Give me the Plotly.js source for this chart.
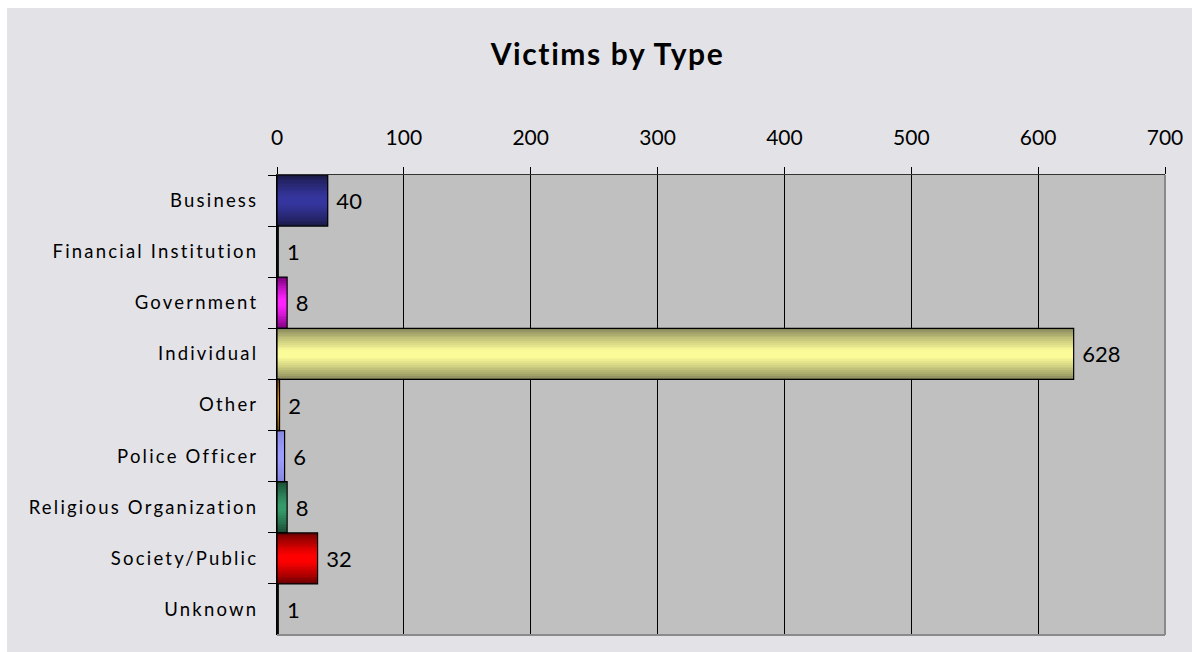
<!DOCTYPE html>
<html>
<head>
<meta charset="utf-8">
<script src="https://cdn.plot.ly/plotly-3.0.1.min.js"></script>
<style>
  html, body { margin: 0; padding: 0; background: #ffffff; }
  #chart { position: absolute; left: 7px; top: 8px; width: 1185px; height: 644px; }
  .ytick text { letter-spacing: 2.2px; }
  .gtitle { letter-spacing: 1.6px; }
</style>
</head>
<body>
<div id="chart"></div>
<script>
const categories = ['Business', 'Financial Institution', 'Government', 'Individual', 'Other',
                    'Police Officer', 'Religious Organization', 'Society/Public', 'Unknown'];
const values = [40, 1, 8, 628, 2, 6, 8, 32, 1];
const centerColors = ['#3535a0', '#33ccff', '#ff22ff', '#fbfb99', '#ff9900', '#9c9cff', '#35996a', '#ff0000', '#909090'];
const edgeColors   = ['#1a1a48', '#1a6680', '#7a007a', '#85855a', '#804c00', '#8585e0', '#1a4a33', '#6a0000', '#404040'];
const xTicks = [0, 100, 200, 300, 400, 500, 600, 700];

function hexToRgb(h) {
  return [parseInt(h.slice(1,3),16), parseInt(h.slice(3,5),16), parseInt(h.slice(5,7),16)];
}
function mix(a, b, t) {
  const A = hexToRgb(a), B = hexToRgb(b);
  return 'rgb(' + A.map((v, i) => Math.round(v + (B[i] - v) * t)).join(',') + ')';
}

const N = 14;
const traces = [];
for (let k = 0; k < N; k++) {
  const w = 1 - k / N;
  const t = Math.min(1, Math.pow(1 - w, 0.8) * 1.15);
  traces.push({
    type: 'bar',
    orientation: 'h',
    y: categories,
    x: values,
    width: categories.map(() => w),
    marker: { color: categories.map((c, i) => mix(edgeColors[i], centerColors[i], t)), line: { width: 0 } },
    hoverinfo: 'skip',
    showlegend: false
  });
}
// outline + labels
traces.push({
  type: 'bar',
  orientation: 'h',
  y: categories,
  x: values,
  width: categories.map(() => 1),
  marker: { color: 'rgba(0,0,0,0)', line: { color: '#000000', width: 1.2 } },
  text: values.map(v => '\u00a0' + v),
  textposition: 'outside',
  constraintext: 'none',
  cliponaxis: false,
  textfont: { family: 'Lato, sans-serif', size: 22, color: '#000000' },
  showlegend: false
});

const layout = {
  width: 1185,
  height: 644,
  paper_bgcolor: '#e3e3e7',
  plot_bgcolor: '#c0c0c0',
  barmode: 'overlay',
  bargap: 0,
  margin: { l: 270, r: 27, t: 167, b: 17 },
  title: {
    text: '<b>Victims by Type</b>',
    font: { family: 'Lato, sans-serif', size: 30, color: '#000000' },
    x: (607.5 - 7) / 1185, xref: 'container', xanchor: 'center',
    y: 1 - (54 - 8) / 644, yref: 'container', yanchor: 'middle'
  },
  xaxis: {
    side: 'top',
    range: [0, 700],
    tickvals: xTicks,
    ticktext: xTicks.map(String),
    showgrid: true,
    gridcolor: '#000000',
    gridwidth: 1,
    zeroline: false,
    showline: true,
    linecolor: '#333333',
    linewidth: 1,
    ticks: 'outside',
    ticklen: 7,
    tickcolor: '#000000',
    ticklabelstandoff: 14,
    tickfont: { family: 'Lato, sans-serif', size: 21, color: '#000000' }
  },
  yaxis: {
    type: 'category',
    autorange: 'reversed',
    tickson: 'boundaries',
    ticks: 'outside',
    ticklen: 8,
    tickcolor: '#000000',
    showgrid: false,
    zeroline: false,
    showline: true,
    linecolor: '#000000',
    linewidth: 1,
    ticklabelstandoff: 14,
    tickfont: { family: 'Lato, sans-serif', size: 18.5, color: '#000000' }
  },
  shapes: [
    { type: 'line', xref: 'paper', yref: 'paper', x0: 1, x1: 1, y0: 0, y1: 1, line: { color: '#8a8a8a', width: 2 }, layer: 'above' },
    { type: 'line', xref: 'paper', yref: 'paper', x0: 0, x1: 1, y0: 0, y1: 0, line: { color: '#8a8a8a', width: 2 }, layer: 'above' }
  ]
};

Plotly.newPlot('chart', traces, layout, { displayModeBar: false, staticPlot: true });
</script>
</body>
</html>
